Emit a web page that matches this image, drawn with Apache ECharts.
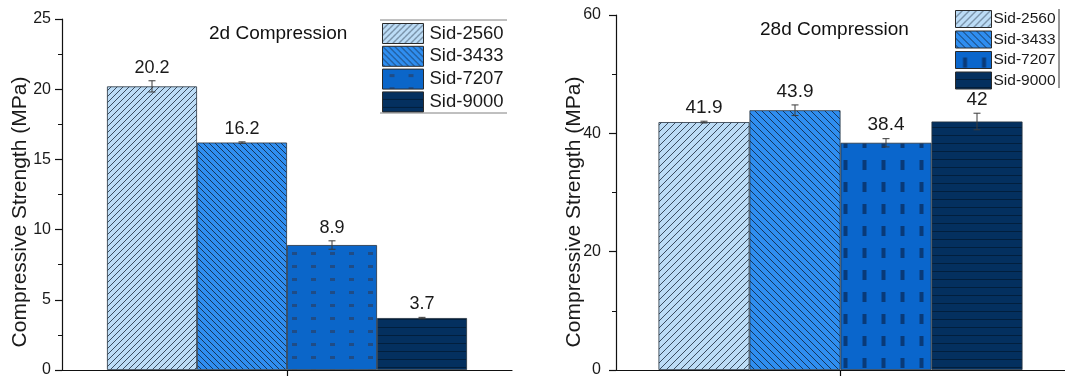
<!DOCTYPE html>
<html>
<head>
<meta charset="utf-8">
<script src="https://cdn.jsdelivr.net/npm/echarts@6/dist/echarts.min.js"></script>
<style>
  html, body { margin: 0; padding: 0; background: #fff; }
  #chart { width: 1065px; height: 378px; }
</style>
</head>
<body>
<div id="chart"></div>
<script>
// Mix designations shown in both panels
const mixes = ['Sid-2560', 'Sid-3433', 'Sid-7207', 'Sid-9000'];

// 2-day compressive strength (MPa) and standard deviation
const strength2d = [20.2, 16.2, 8.9, 3.7];
const error2d = [0.4, 0.05, 0.3, 0.05];

// 28-day compressive strength (MPa) and standard deviation
const strength28d = [41.9, 43.9, 38.4, 42];
const error28d = [0.15, 0.9, 0.7, 1.4];

// Panel titles and axis title
const panelTitles = ['2d Compression', '28d Compression'];
const yTitle = 'Compressive Strength (MPa)';

const FONT = '"Liberation Sans", Arial, Helvetica, sans-serif';

// ---------- fill patterns ----------
function hatch(bg, line, step, slash) {
  const c = document.createElement('canvas');
  c.width = step; c.height = step;
  const g = c.getContext('2d');
  g.fillStyle = bg; g.fillRect(0, 0, step, step);
  g.strokeStyle = line; g.lineWidth = 1;
  g.beginPath();
  if (slash) {
    g.moveTo(0, step); g.lineTo(step, 0);
    g.moveTo(-1, 1); g.lineTo(1, -1);
    g.moveTo(step - 1, step + 1); g.lineTo(step + 1, step - 1);
  } else {
    g.moveTo(0, 0); g.lineTo(step, step);
    g.moveTo(step - 1, -1); g.lineTo(step + 1, 1);
    g.moveTo(-1, step - 1); g.lineTo(1, step + 1);
  }
  g.stroke();
  return { image: c, repeat: 'repeat' };
}

function dots(bg, dot, w, h, dw, dh) {
  const c = document.createElement('canvas');
  c.width = w; c.height = h;
  const g = c.getContext('2d');
  g.fillStyle = bg; g.fillRect(0, 0, w, h);
  g.fillStyle = dot;
  g.filter = 'blur(0.7px)';
  g.fillRect((w - dw) / 2, (h - dh) / 2, dw, dh);
  return { image: c, repeat: 'repeat' };
}

function hlines(bg, line, h) {
  const c = document.createElement('canvas');
  c.width = 4; c.height = h;
  const g = c.getContext('2d');
  g.fillStyle = bg; g.fillRect(0, 0, 4, h);
  g.fillStyle = line; g.fillRect(0, h - 1, 4, 1);
  return { image: c, repeat: 'repeat' };
}

const fillsLeft = [
  hatch('#bcdcf6', '#3a4c60', 6, true),
  hatch('#2f8ef0', '#16365c', 6, false),
  dots('#0b66c9', '#1f4c86', 19, 13, 5, 3),
  hlines('#04305f', 'rgba(0,0,0,0.35)', 8)
];
const fillsRight = [
  hatch('#bcdcf6', '#3a4c60', 7, true),
  hatch('#2f8ef0', '#16365c', 7, false),
  dots('#0a66cc', '#093a78', 19, 22, 4, 10),
  hlines('#04305f', 'rgba(0,0,0,0.35)', 8)
];

// ---------- error bars with value labels ----------
function errorBars(barW, fontSize) {
  return function (params, api) {
    const slot = api.value(3);
    const v = api.value(1);
    const e = api.value(2);
    const c = api.coord([0, v]);
    const x = c[0] + (slot - 1.5) * barW;
    const yTop = api.coord([0, v + e])[1];
    const yBot = api.coord([0, v - e])[1];
    const cap = 3.5;
    const lineStyle = { stroke: '#3a3a3a', lineWidth: 1 };
    return {
      type: 'group',
      children: [
        { type: 'line', shape: { x1: x, y1: yTop, x2: x, y2: yBot }, style: lineStyle },
        { type: 'line', shape: { x1: x - cap, y1: yTop, x2: x + cap, y2: yTop }, style: lineStyle },
        { type: 'line', shape: { x1: x - cap, y1: yBot, x2: x + cap, y2: yBot }, style: lineStyle },
        {
          type: 'text',
          x: x, y: yTop - 4,
          style: {
            text: String(v),
            font: fontSize + 'px ' + FONT,
            fill: '#1a1a1a',
            textAlign: 'center',
            textVerticalAlign: 'bottom'
          }
        }
      ]
    };
  };
}

function barSeries(values, fills, idx, barW) {
  return mixes.map((name, i) => ({
    type: 'bar',
    name: name,
    xAxisIndex: idx, yAxisIndex: idx,
    barWidth: barW,
    barGap: '0%',
    data: [values[i]],
    itemStyle: { color: fills[i], borderColor: '#26323f', borderWidth: 0.8 },
    emphasis: { disabled: true },
    silent: true,
    z: 2
  }));
}

function errorSeries(values, errors, idx, barW, fontSize) {
  return {
    type: 'custom',
    xAxisIndex: idx, yAxisIndex: idx,
    renderItem: errorBars(barW, fontSize),
    encode: { x: 0, y: 1 },
    data: values.map((v, i) => [0, v, errors[i], i]),
    silent: true,
    z: 5
  };
}

function yAxis(idx, max, interval, margin) {
  return {
    type: 'value', gridIndex: idx, min: 0, max: max, interval: interval,
    axisLine: { show: true, lineStyle: { color: '#111', width: 1.2 } },
    axisTick: { show: true, length: 7, lineStyle: { color: '#111', width: 1.2 } },
    minorTick: { show: true, splitNumber: 2, length: 4, lineStyle: { color: '#111', width: 1 } },
    splitLine: { show: false },
    axisLabel: { fontFamily: FONT, fontSize: 16, color: '#1a1a1a', margin: margin }
  };
}

function xAxis(idx) {
  return {
    type: 'category', gridIndex: idx, data: [''],
    boundaryGap: true,
    axisLine: { show: true, onZero: false, lineStyle: { color: '#111', width: 1.2 } },
    axisTick: { show: true, alignWithLabel: true, length: 6, lineStyle: { color: '#111', width: 1.2 } },
    axisLabel: { show: false },
    splitLine: { show: false }
  };
}

function legendData(fills) {
  return mixes.map((name, i) => ({ name: name, itemStyle: { color: fills[i] } }));
}

const chart = echarts.init(document.getElementById('chart'), null, { renderer: 'canvas' });

chart.setOption({
  animation: false,
  backgroundColor: '#fff',
  title: [
    { text: panelTitles[0], left: 209, top: 24, padding: 0,
      textStyle: { fontFamily: FONT, fontSize: 19, fontWeight: 'normal', color: '#111' } },
    { text: panelTitles[1], left: 760, top: 20, padding: 0,
      textStyle: { fontFamily: FONT, fontSize: 19, fontWeight: 'normal', color: '#111' } }
  ],
  legend: [
    {
      orient: 'vertical', left: 382, top: 23, padding: 0,
      itemWidth: 41, itemHeight: 20, itemGap: 1.8,
      icon: 'rect',
      data: legendData(fillsLeft),
      itemStyle: { borderColor: '#2a2a2a', borderWidth: 1 },
      textStyle: { fontFamily: FONT, fontSize: 18.5, color: '#1a1a1a', padding: [0, 0, 0, 1] },
      selectedMode: false
    },
    {
      orient: 'vertical', left: 955, top: 10, padding: 0,
      itemWidth: 36, itemHeight: 17, itemGap: 2.5,
      icon: 'rect',
      data: legendData(fillsRight),
      itemStyle: { borderColor: '#2a2a2a', borderWidth: 1 },
      textStyle: { fontFamily: FONT, fontSize: 15.5, color: '#1a1a1a', padding: [0, 0, 0, -3] },
      selectedMode: false
    }
  ],
  grid: [
    { left: 62, top: 19, width: 450, bottom: 3 },
    { left: 616, top: 15, right: -5, bottom: 3 }
  ],
  xAxis: [xAxis(0), xAxis(1)],
  yAxis: [yAxis(0, 25, 5, 11), yAxis(1, 60, 20, 15)],
  series: [
    ...barSeries(strength2d, fillsLeft, 0, 90),
    errorSeries(strength2d, error2d, 0, 90, 18),
    ...barSeries(strength28d, fillsRight, 1, 91),
    errorSeries(strength28d, error28d, 1, 91, 19)
  ],
  graphic: [
    {
      type: 'text', x: 20, y: 212, rotation: Math.PI / 2,
      style: { text: yTitle, font: '21px ' + FONT, fill: '#1a1a1a',
               textAlign: 'center', textVerticalAlign: 'middle' }
    },
    {
      type: 'text', x: 574, y: 212, rotation: Math.PI / 2,
      style: { text: yTitle, font: '21px ' + FONT, fill: '#1a1a1a',
               textAlign: 'center', textVerticalAlign: 'middle' }
    },
    // legend frame edges
    { type: 'line', shape: { x1: 380, y1: 20, x2: 507, y2: 20 }, style: { stroke: '#808080', lineWidth: 1 } },
    { type: 'line', shape: { x1: 380, y1: 113, x2: 507, y2: 113 }, style: { stroke: '#808080', lineWidth: 1 } },
    { type: 'line', shape: { x1: 1059, y1: 9, x2: 1059, y2: 88 }, style: { stroke: '#333', lineWidth: 1 } }
  ]
});
</script>
</body>
</html>
